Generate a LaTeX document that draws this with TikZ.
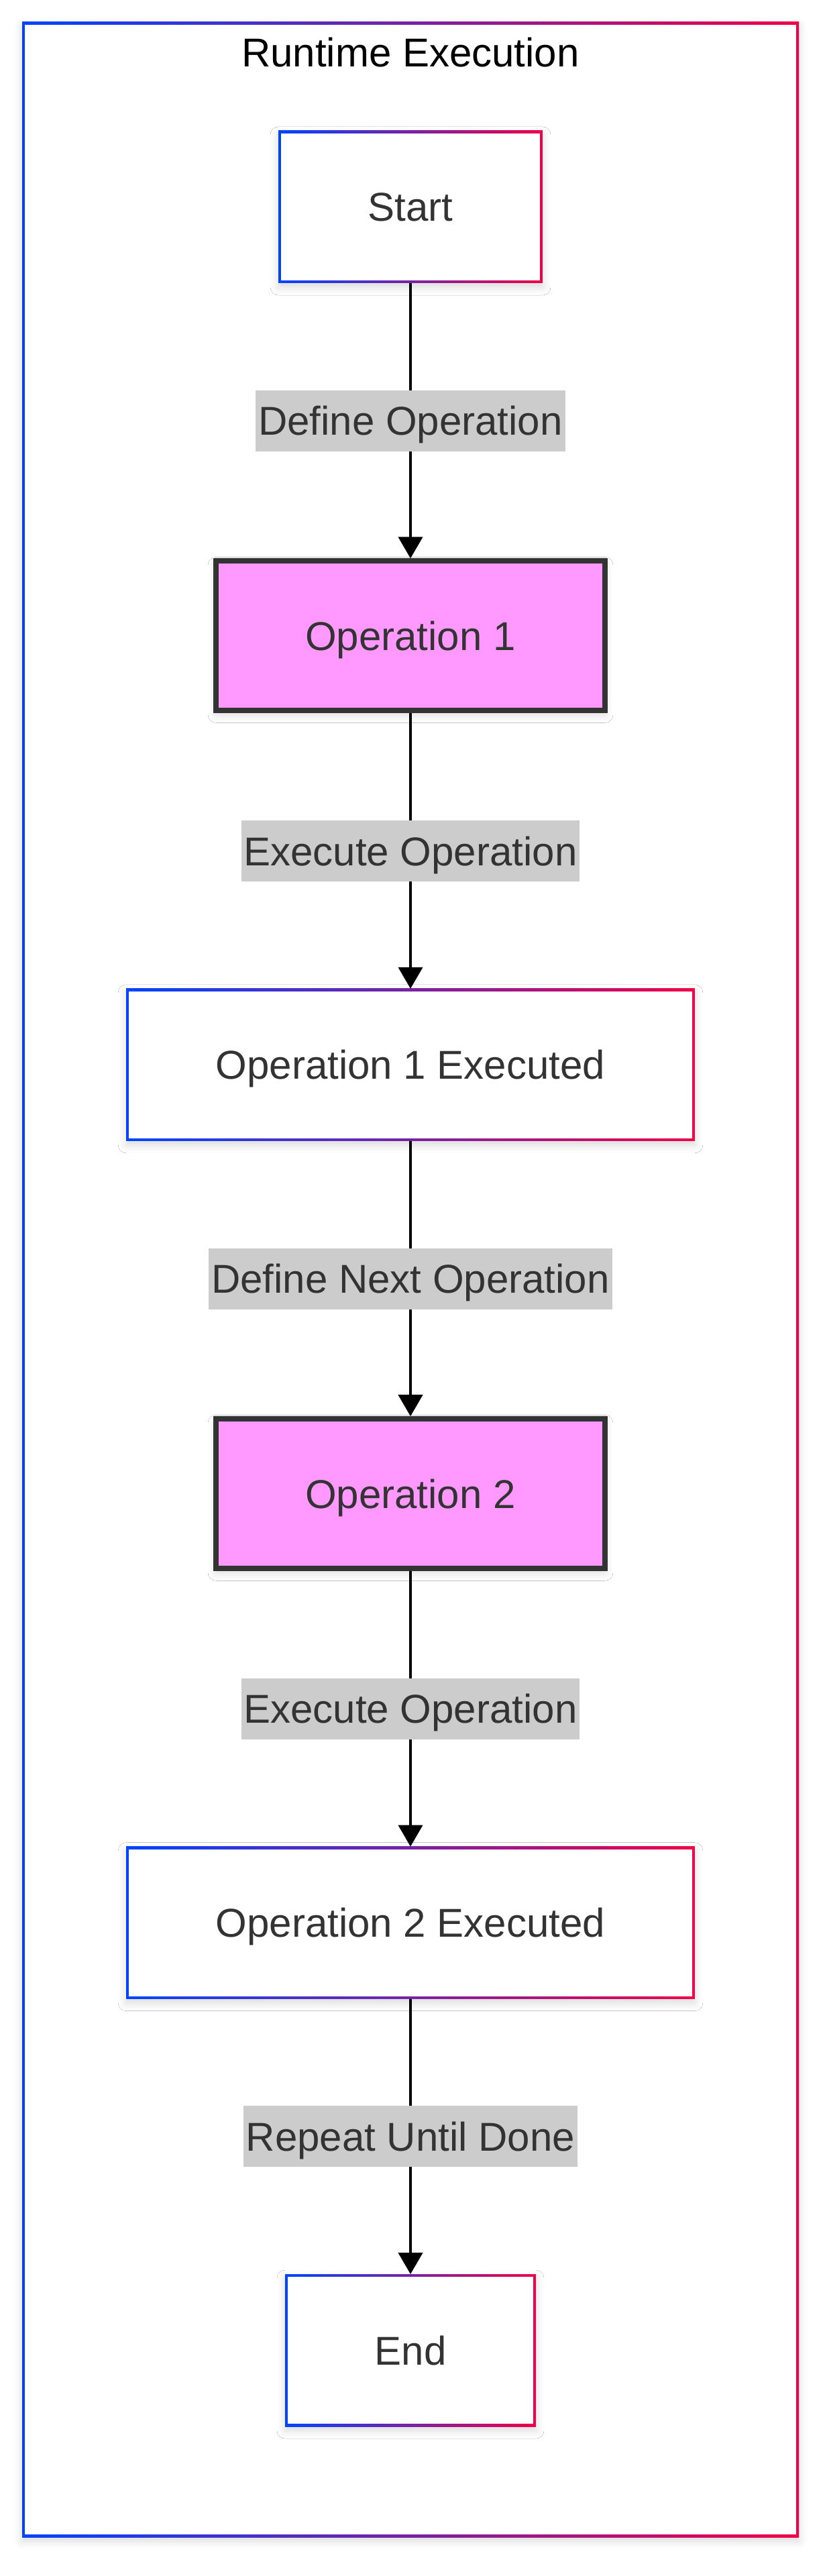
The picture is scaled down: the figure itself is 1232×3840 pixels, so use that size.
\documentclass[tikz,border=0pt]{standalone}
\usepackage{fontspec}
\setmainfont{Liberation Sans}
\usetikzlibrary{arrows.meta,positioning,shadows.blur}

\definecolor{gradblue}{HTML}{0044FF}
\definecolor{gradred}{HTML}{F00048}
\definecolor{opfill}{HTML}{FF99FF}
\definecolor{txtgray}{HTML}{333333}
\definecolor{lblgray}{HTML}{CCCCCC}

\begin{document}
\begin{tikzpicture}[x=0.25pt, y=-0.25pt, node distance=102.6pt,
    softshadow/.style={blur shadow={shadow xshift=0pt, shadow yshift=-1.5pt, shadow blur radius=3pt, shadow opacity=15}},
    gradedge/.style={rectangle, left color=gradblue, right color=gradred, softshadow, outer sep=0pt,
        path picture={\fill[white] ([shift={(1pt,1pt)}]path picture bounding box.south west) rectangle ([shift={(-1pt,-1pt)}]path picture bounding box.north east);}},
    txt/.style={font=\fontsize{15}{18}\selectfont, text=txtgray, text height=10.75pt, text depth=0pt},
    stepnode/.style={gradedge, txt, inner xsep=33.4pt, minimum height=56.75pt},
    opnode/.style={txt, draw=txtgray, line width=2pt, fill=opfill, softshadow, inner xsep=33.3pt, minimum height=55.75pt},
    elabel/.style={txt, fill=lblgray, inner xsep=1pt, inner ysep=0pt, minimum height=22.75pt},
    flow/.style={line width=1pt, -{Triangle[length=8pt, width=9pt]}}]
    \useasboundingbox (0,0) rectangle (1232,3840);

    % subgraph frame
    \node [gradedge, minimum width=289.5pt, minimum height=937.25pt] (cluster) at (612,1907.5) {};
    \node [anchor=base, font=\fontsize{15}{18}\selectfont, text=black] (title) at (612,100) {Runtime Execution};

    % steps
    \node [stepnode] (start) at (612,308.5) {Start};
    \node [opnode, below=of start] (op1) {Operation 1};
    \node [stepnode, below=of op1] (done1) {Operation 1 Executed};
    \node [opnode, below=of done1] (op2) {Operation 2};
    \node [stepnode, below=of op2] (done2) {Operation 2 Executed};
    \node [stepnode, below=of done2] (stop) {End};

    % transitions
    \draw [flow] (start) -- node [elabel] {Define Operation} (op1);
    \draw [flow] (op1) -- node [elabel] {Execute Operation} (done1);
    \draw [flow] (done1) -- node [elabel] {Define Next Operation} (op2);
    \draw [flow] (op2) -- node [elabel] {Execute Operation} (done2);
    \draw [flow] (done2) -- node [elabel] {Repeat Until Done} (stop);
\end{tikzpicture}
\end{document}
